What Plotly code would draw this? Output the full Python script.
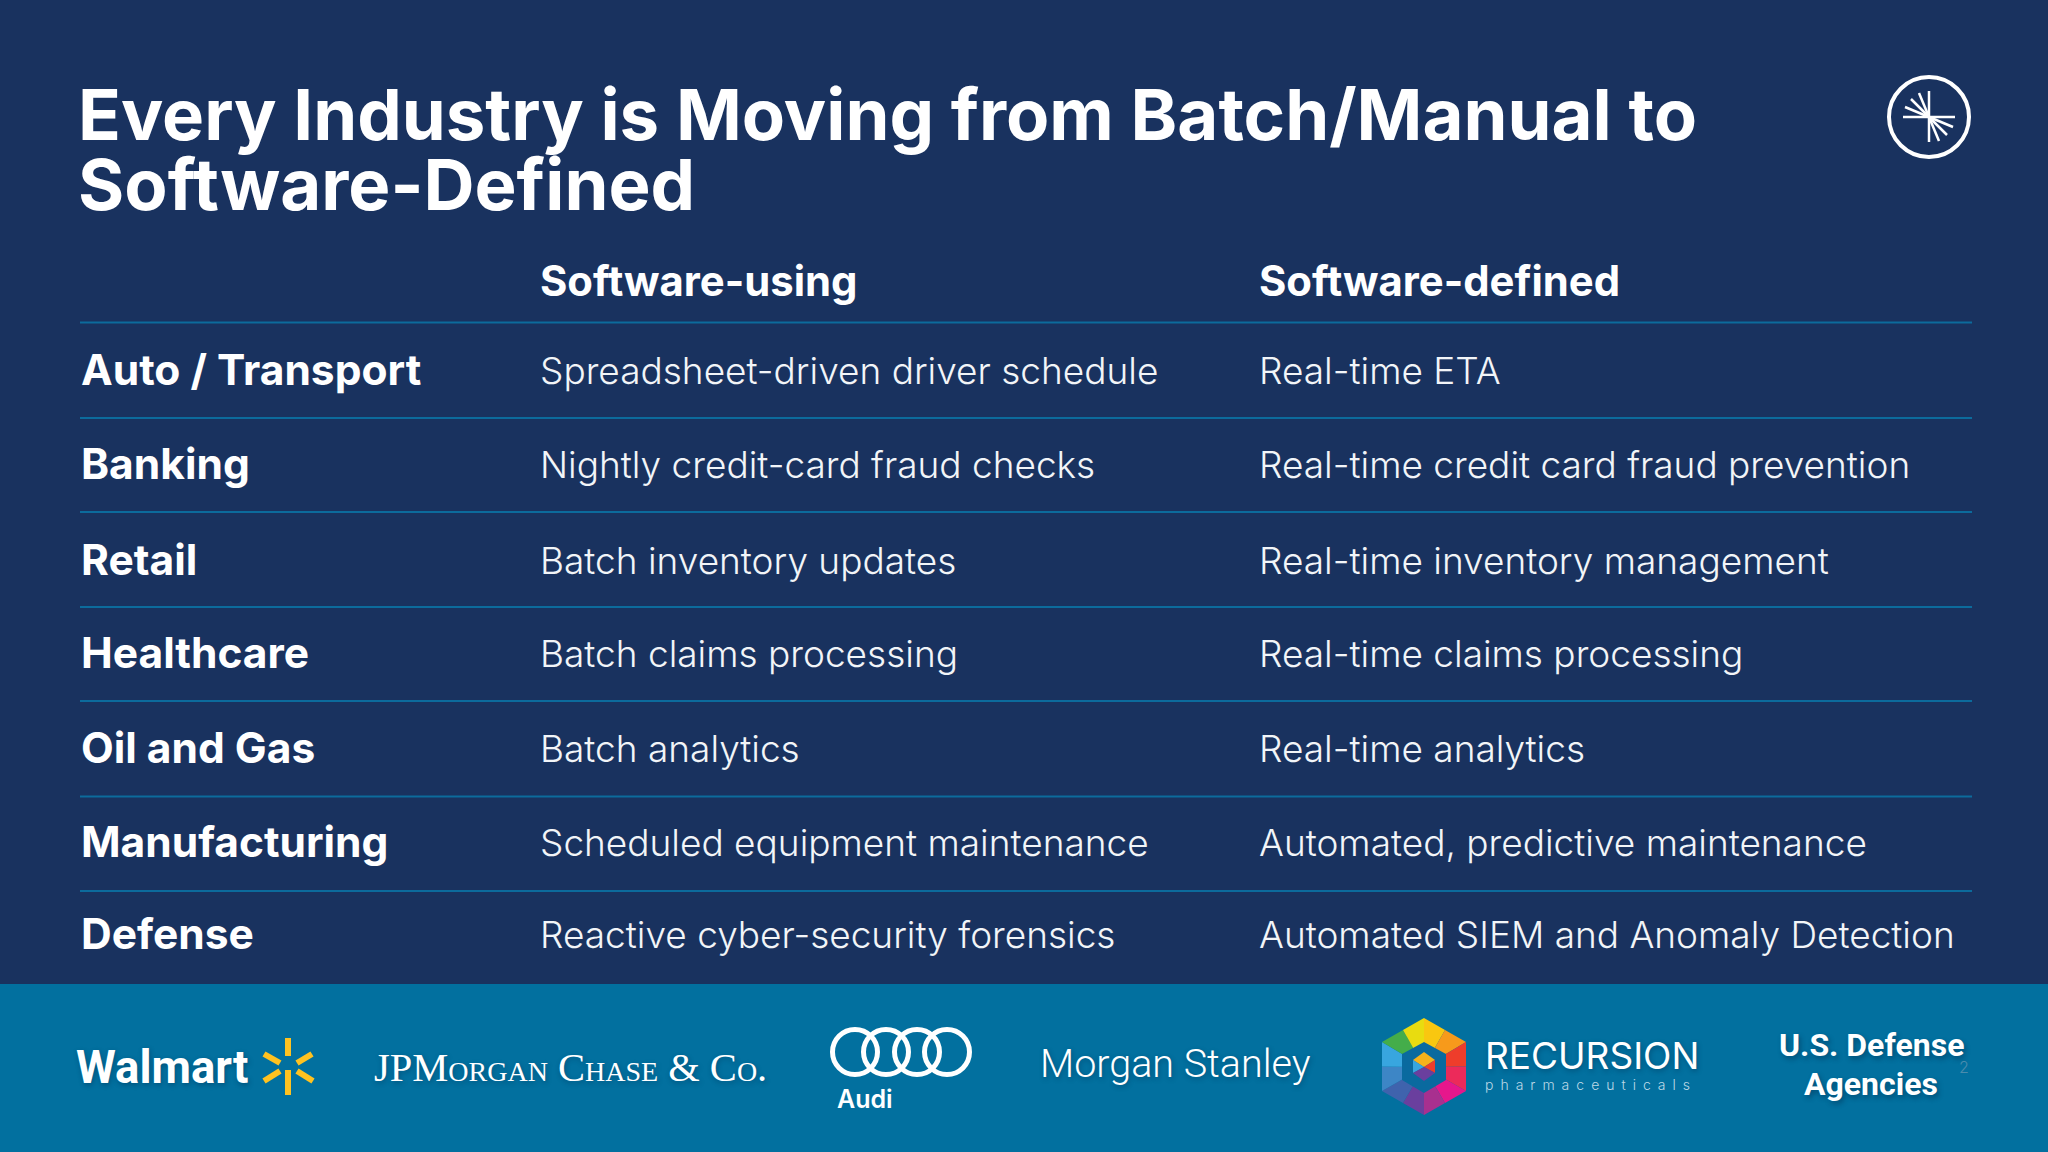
import plotly.graph_objects as go

BG = "#19325f"
BAND = "#02709f"
RULE = "#0c6b9c"
TITLE_LINES = ["Every Industry is Moving from Batch/Manual to", "Software-Defined"]
COLUMNS = ["Software-using", "Software-defined"]
INDUSTRIES = ["Auto / Transport", "Banking", "Retail", "Healthcare", "Oil and Gas", "Manufacturing", "Defense"]
USING = ["Spreadsheet-driven driver schedule", "Nightly credit-card fraud checks", "Batch inventory updates",
         "Batch claims processing", "Batch analytics", "Scheduled equipment maintenance",
         "Reactive cyber-security forensics"]
DEFINED = ["Real-time ETA", "Real-time credit card fraud prevention", "Real-time inventory management",
           "Real-time claims processing", "Real-time analytics", "Automated, predictive maintenance",
           "Automated SIEM and Anomaly Detection"]

ROW_Y = [370, 464, 560, 653, 748, 842, 934]
RULE_Y = [322.5, 418, 512, 607, 701, 796.5, 891]
X0, X1, X2 = 80, 538.5, 1258
FONT = "Inter"

shapes, ann = [], []

def text(x, y, s, size, weight=400, color="white", family=FONT, anchor="left", **font_kw):
    ann.append(dict(x=x, y=y, xref="x", yref="y", text=s, showarrow=False, xanchor=anchor, yanchor="middle",
                    align=anchor, borderpad=0,
                    font=dict(family=family, size=size, color=color, weight=weight, **font_kw)))

def line(x0, y0, x1, y1, color="white", width=2):
    shapes.append(dict(type="line", xref="x", yref="y", x0=x0, y0=y0, x1=x1, y1=y1,
                       line=dict(color=color, width=width)))

def poly(pts, fill):
    d = "M" + " L".join(f"{x:.1f},{y:.1f}" for x, y in pts) + " Z"
    shapes.append(dict(type="path", xref="x", yref="y", path=d, fillcolor=fill, line=dict(width=0)))

def ring(cx, cy, r, color="white", width=5, fill=None):
    shapes.append(dict(type="circle", xref="x", yref="y", x0=cx - r, x1=cx + r, y0=cy - r, y1=cy + r,
                       line=dict(color=color, width=width), fillcolor=fill or "rgba(0,0,0,0)"))

# background band
shapes.append(dict(type="rect", xref="x", yref="y", x0=0, x1=2048, y0=984, y1=1152, fillcolor=BAND,
                   line=dict(width=0), layer="below"))

# title, header and table
text(77, 114, TITLE_LINES[0], 70.7, 700)
text(77, 184, TITLE_LINES[1], 70.7, 700)
text(X1, 281, COLUMNS[0], 41.8, 700)
text(X2, 281, COLUMNS[1], 41.8, 700)
for y in RULE_Y:
    line(80, y, 1972, y, RULE, 2)
for y, a, b, c in zip(ROW_Y, INDUSTRIES, USING, DEFINED):
    text(X0, y - 0.5, a, 42.5, 700)
    text(X1, y, b, 37, 300, color="#f2f5f8")
    text(X2, y, c, 37, 300, color="#f2f5f8")

# corner mark
ring(1929, 117, 40, "white", 4)
line(1903, 117, 1955, 117, "white", 2.5)
line(1929, 91, 1929, 142, "white", 2.5)
for ex, ey in [(1905, 107), (1911, 99), (1919, 93)]:
    line(1929, 117, ex, ey, "white", 2.5)
    line(1929, 117, 2 * 1929 - ex, 2 * 117 - ey, "white", 2.5)

# logos
SHADOW = "1px 2px 5px rgba(0,30,60,0.35)"
text(75, 1067, "Walmart", 45.5, 700, family="Roboto", shadow=SHADOW)
YEL = "#ffc220"
for (a, b, c, d) in [(288, 1038, 288, 1056), (288, 1070, 288, 1095), (264, 1054, 280, 1063),
                     (312, 1054, 297, 1063), (264, 1081, 280, 1071), (313, 1081, 297, 1071)]:
    line(a, b, c, d, YEL, 6)
text(373, 1067, "JPMorgan Chase & Co.", 40.5, 400, family="Liberation Serif", variant="small-caps", shadow=SHADOW)
for cx in [855, 886, 917, 947]:
    ring(cx, 1052, 22.5, "white", 5)
text(836, 1099, "Audi", 25, 600)
text(1039, 1063, "Morgan Stanley", 39.5, 300, family="Roboto", shadow=SHADOW)

# hexagonal gem
C = (1424, 1067)
H = [(1424, 1018), (1466, 1042), (1466, 1091), (1424, 1115), (1382, 1091), (1382, 1042)]
M = [((H[i][0] + H[(i + 1) % 6][0]) / 2, (H[i][1] + H[(i + 1) % 6][1]) / 2) for i in range(6)]
seq = []
for i in range(6):
    seq += [H[i], M[i]]
cols = ["#f9c710", "#f79a1b", "#ee3d2b", "#ec2a5a", "#e6178c", "#a8308f", "#6a3f9e", "#3f63ad", "#3d86c6", "#38a6df", "#44ad4a", "#e8dc10"]
for i in range(12):
    poly([C, seq[i], seq[(i + 1) % 12]], cols[i])
poly([(1424, 1042), (1446, 1054), (1446, 1080), (1424, 1093), (1402, 1080), (1402, 1054)], "#0a6a9f")
poly([(1424, 1052), (1435, 1060), (1424, 1067), (1413, 1060)], "#f6b21b")
poly([(1435, 1060), (1435, 1073), (1424, 1067)], "#ee3d2b")
poly([(1413, 1060), (1413, 1073), (1424, 1067)], "#38a6df")
poly([(1413, 1073), (1424, 1081), (1435, 1073), (1424, 1067)], "#6a3f9e")

text(1484, 1055, "RECURSION", 37, 400, shadow=SHADOW)
text(1484, 1084, "\u2002".join("pharmaceuticals"), 14, 300, color="#bcd8e6")
text(1871, 1045, "U.S. Defense", 32, 700, family="Roboto", anchor="center", shadow="2px 3px 5px rgba(0,30,60,0.4)")
text(1871, 1084, "Agencies", 32, 700, family="Roboto", anchor="center", shadow="2px 3px 5px rgba(0,30,60,0.4)")
text(1964, 1067, "2", 16, 300, color="#4a8cad", anchor="center")

fig = go.Figure()
fig.update_layout(
    width=2048, height=1152, autosize=False,
    margin=dict(l=0, r=0, t=0, b=0),
    paper_bgcolor=BG, plot_bgcolor=BG, showlegend=False,
    xaxis=dict(range=[0, 2048], visible=False, fixedrange=True),
    yaxis=dict(range=[1152, 0], visible=False, fixedrange=True),
    shapes=shapes, annotations=ann,
)
fig.write_html("out.html", config=dict(displayModeBar=False),
               post_script="document.body.style.margin='0';document.body.style.background='%s';" % BG)
